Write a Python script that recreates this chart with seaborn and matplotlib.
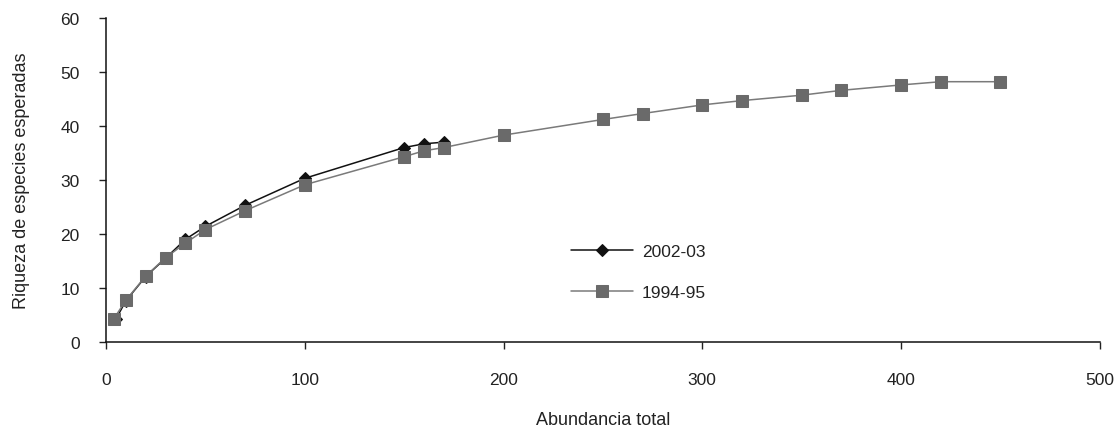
import matplotlib
matplotlib.use("Agg")
import matplotlib.pyplot as plt
import seaborn as sns
import pandas as pd

# Curva de rarefaccion: abundancia total vs riqueza esperada
abund_2002 = [5, 10, 20, 30, 40, 50, 70, 100, 150, 160, 170]
riq_2002 = [4.2, 7.6, 12.1, 15.5, 19.0, 21.4, 25.3, 30.3, 36.0, 36.7, 37.0]

abund_1994 = [4, 10, 20, 30, 40, 50, 70, 100, 150, 160, 170, 200, 250, 270,
              300, 320, 350, 370, 400, 420, 450]
riq_1994 = [4.3, 7.7, 12.2, 15.6, 18.3, 20.8, 24.3, 29.1, 34.3, 35.4, 36.0,
            38.3, 41.2, 42.3, 43.9, 44.7, 45.7, 46.6, 47.6, 48.2, 48.2]

labels = ["2002-03", "1994-95"]
x_ticks = [0, 100, 200, 300, 400, 500]
y_ticks = [0, 10, 20, 30, 40, 50, 60]

df_2002 = pd.DataFrame({"abund": abund_2002, "riq": riq_2002})
df_1994 = pd.DataFrame({"abund": abund_1994, "riq": riq_1994})

sns.set_style("white")
plt.rcParams["font.family"] = ["Liberation Sans", "DejaVu Sans"]

fig = plt.figure(figsize=(11.2, 4.27), dpi=100)
ax = fig.add_axes([0.0946, 0.197, 0.8874, 0.7585])

sns.lineplot(data=df_2002, x="abund", y="riq", ax=ax, color="#111111",
             linewidth=1.1, marker="D", markersize=6.5, markeredgecolor="#111111",
             label=labels[0], zorder=2)
sns.lineplot(data=df_1994, x="abund", y="riq", ax=ax, color="#7a7a7a",
             linewidth=1.1, marker="s", markersize=8.8, markerfacecolor="#6a6a6a",
             markeredgecolor="#6a6a6a", label=labels[1], zorder=3)

ax.set_xlim(0, 500)
ax.set_ylim(0, 60)
ax.set_xticks(x_ticks)
ax.set_yticks(y_ticks)
ax.tick_params(axis="both", labelsize=12.5, colors="#222222", length=5,
               width=1, direction="out", bottom=True, left=True)
ax.tick_params(axis="x", pad=17)
ax.tick_params(axis="y", pad=14)

for side in ["top", "right"]:
    ax.spines[side].set_visible(False)
for side in ["left", "bottom"]:
    ax.spines[side].set_color("#111111")
    ax.spines[side].set_linewidth(1.1)

ax.set_xlabel("Abundancia total", fontsize=13, color="#222222", labelpad=17)
ax.set_ylabel("Riqueza de especies esperadas", fontsize=13, color="#222222", labelpad=22)

leg = ax.legend(loc="upper left", bbox_to_anchor=(0.452, 0.35), frameon=False,
                fontsize=12.5, handlelength=3.6, labelspacing=1.45, handletextpad=0.5)
for t in leg.get_texts():
    t.set_color("#222222")

fig.savefig("out.png", dpi=100)
